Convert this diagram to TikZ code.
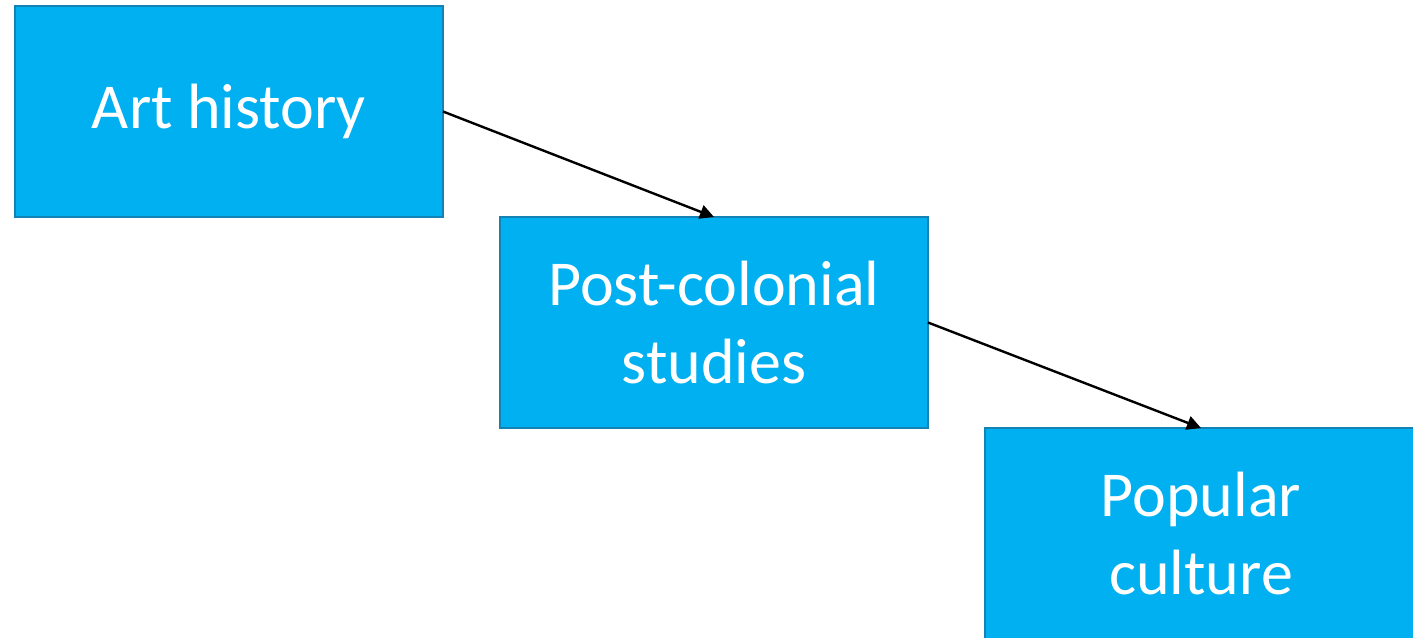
\documentclass[tikz,border=0pt]{standalone}
\usepackage{fontspec}
\setmainfont{Carlito}
\usepackage{xcolor}
\usetikzlibrary{arrows.meta,positioning}
\definecolor{boxcyan}{HTML}{00B0F0}
\definecolor{boxedge}{HTML}{1383B5}

\begin{document}
\begin{tikzpicture}[x=0.5pt,y=-0.5pt,
   st/.style={draw=boxedge,fill=boxcyan,line width=1pt,minimum width=214pt,
              minimum height=105.5pt,outer sep=0pt,align=center,text=white,
              font=\fontsize{32}{39}\selectfont},
   arr/.style={-{Triangle[length=7pt,width=7pt]},line width=1.2pt}]
  \useasboundingbox (0,0) rectangle (1413,637);
  \clip (0,0) rectangle (1413,637);
  \node[st,anchor=north west] (art) at (15,6) {Art history};
  \node[st,below right=0pt and 28.5pt of art.south east] (post) {Post-colonial\\studies};
  \node[st,minimum width=216pt,below right=0pt and 28.5pt of post.south east] (pop) {Popular\\culture};
  \draw[arr] (art.east) -- (post.north);
  \draw[arr] (post.east) -- (pop.north);
\end{tikzpicture}
\end{document}
